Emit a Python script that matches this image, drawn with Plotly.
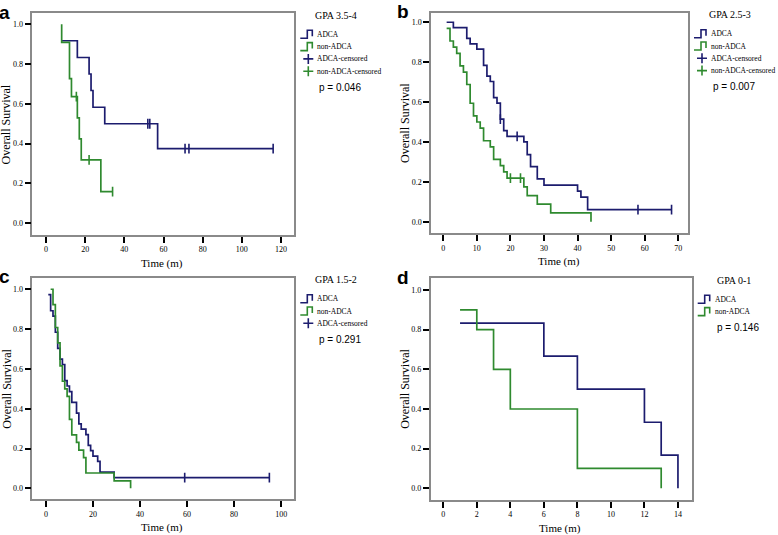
import plotly.graph_objects as go

W, H = 778, 535
NAVY = '#1c1c6e'
GREEN = '#2f8a2f'
SERIF = 'Liberation Serif'

# ---- data: (time, survival after event) pairs ----
# panel a, GPA 3.5-4
a_adca_t = [8, 16, 22, 23, 24, 30, 57, 116]
a_adca_s = [0.917, 0.833, 0.750, 0.667, 0.583, 0.500, 0.375, 0.375]
a_adca_ct = [52, 53, 71, 73, 116]
a_adca_cs = [0.500, 0.500, 0.375, 0.375, 0.375]
a_non_t = [8, 8, 12, 13, 16, 17, 18, 28, 34]
a_non_s = [1.0, 0.909, 0.727, 0.636, 0.530, 0.424, 0.318, 0.159, 0.159]
a_non_ct = [15.5, 22, 34]
a_non_cs = [0.636, 0.318, 0.159]

# panel b, GPA 2.5-3
b_adca_t = [1, 3, 7, 8, 10, 12, 13, 14, 15, 16, 17, 18, 19, 24, 25, 26, 28, 30, 40, 41, 43, 68]
b_adca_s = [1.0, 0.973, 0.919, 0.892, 0.865, 0.784, 0.730, 0.703, 0.622, 0.595, 0.514, 0.457,
            0.428, 0.400, 0.336, 0.276, 0.215, 0.184, 0.153, 0.123, 0.061, 0.061]
b_adca_ct = [17, 22, 58, 68]
b_adca_cs = [0.514, 0.428, 0.061, 0.061]
b_non_t = [1, 2, 3, 4, 5, 6, 7, 8, 9, 10, 11, 12, 14, 15, 17, 18, 19, 24, 25, 28, 32, 44]
b_non_s = [0.969, 0.906, 0.875, 0.844, 0.781, 0.750, 0.688, 0.594, 0.531, 0.500, 0.469, 0.406,
           0.375, 0.313, 0.281, 0.250, 0.219, 0.175, 0.131, 0.088, 0.044, 0.0]
b_non_ct = [20, 23]
b_non_cs = [0.219, 0.219]

# panel c, GPA 1.5-2
c_adca_t = [1, 2, 3, 4, 5, 6, 7, 8, 9, 10, 11, 13, 14, 15, 17, 18, 19, 20, 22, 23, 29, 95]
c_adca_s = [0.973, 0.892, 0.865, 0.784, 0.703, 0.649, 0.622, 0.541, 0.514, 0.486, 0.432, 0.378,
            0.324, 0.297, 0.270, 0.216, 0.189, 0.162, 0.135, 0.081, 0.054, 0.054]
c_adca_ct = [59, 95]
c_adca_cs = [0.054, 0.054]
c_non_t = [2, 3, 4, 5, 6, 7, 8, 9, 10, 11, 13, 14, 16, 17, 29, 36]
c_non_s = [1.0, 0.923, 0.808, 0.731, 0.615, 0.538, 0.500, 0.462, 0.346, 0.269, 0.231, 0.192,
           0.154, 0.077, 0.038, 0.0]

# panel d, GPA 0-1
d_adca_t = [1, 6, 8, 12, 13, 14]
d_adca_s = [0.833, 0.667, 0.500, 0.333, 0.167, 0.0]
d_non_t = [1, 2, 3, 4, 8, 13]
d_non_s = [0.9, 0.8, 0.6, 0.4, 0.1, 0.0]

panels = [
    dict(letter='a', title='GPA 3.5-4', p='p = 0.046', dtick=20,
         xr=[-7.0, 126.8], yr=[-0.059, 1.055], box=(32.3, 294.3, 13.3, 235.0),
         curves=[(a_adca_t, a_adca_s, NAVY), (a_non_t, a_non_s, GREEN)],
         cens=[(a_adca_ct, a_adca_cs, NAVY), (a_non_ct, a_non_cs, GREEN)],
         items=['ADCA', 'non-ADCA', 'ADCA-censored', 'non-ADCA-censored']),
    dict(letter='b', title='GPA 2.5-3', p='p = 0.007', dtick=10,
         xr=[-3.66, 72.9], yr=[-0.058, 1.048], box=(431.0, 688.0, 12.7, 233.3),
         curves=[(b_adca_t, b_adca_s, NAVY), (b_non_t, b_non_s, GREEN)],
         cens=[(b_adca_ct, b_adca_cs, NAVY), (b_non_ct, b_non_cs, GREEN)],
         items=['ADCA', 'non-ADCA', 'ADCA-censored', 'non-ADCA-censored']),
    dict(letter='c', title='GPA 1.5-2', p='p = 0.291', dtick=20,
         xr=[-5.8, 105.6], yr=[-0.055, 1.058], box=(32.3, 294.3, 277.7, 499.3),
         curves=[(c_adca_t, c_adca_s, NAVY), (c_non_t, c_non_s, GREEN)],
         cens=[(c_adca_ct, c_adca_cs, NAVY)],
         items=['ADCA', 'non-ADCA', 'ADCA-censored']),
    dict(letter='d', title='GPA 0-1', p='p = 0.146', dtick=2,
         xr=[-0.75, 14.82], yr=[-0.059, 1.059], box=(430.7, 691.7, 278.3, 500.0),
         curves=[(d_adca_t, d_adca_s, NAVY), (d_non_t, d_non_s, GREEN)],
         cens=[],
         items=['ADCA', 'non-ADCA']),
]


def px(x):
    return x / W


def py(y):
    return 1 - y / H


def note(text, x, y, size, family=SERIF, **kw):
    d = dict(text=text, x=px(x), y=py(y), xref='paper', yref='paper', showarrow=False,
             xanchor='center', yanchor='middle',
             font=dict(family=family, size=size, color='black'))
    d.update(kw)
    return d


fig = go.Figure()
annotations = []
shapes = []

for i, pn in enumerate(panels):
    n = '' if i == 0 else str(i + 1)
    xa, ya = 'x' + n, 'y' + n
    L, R, T, B = pn['box']

    for t, s, col in pn['curves']:
        fig.add_trace(go.Scatter(x=t, y=s, xaxis=xa, yaxis=ya, mode='lines',
                                 line=dict(color=col, width=1.7, shape='hv'),
                                 showlegend=False, hoverinfo='skip'))
    for t, s, col in pn['cens']:
        fig.add_trace(go.Scatter(x=t, y=s, xaxis=xa, yaxis=ya, mode='markers',
                                 marker=dict(symbol='line-ns-open', size=7, color=col,
                                             line=dict(color=col, width=1.6)),
                                 showlegend=False, hoverinfo='skip'))

    axis_common = dict(showline=True, mirror=True, linecolor='#8a8a8a', linewidth=1.5,
                       showgrid=False, zeroline=False, ticks='outside', ticklen=6,
                       tickwidth=2, tickcolor='black',
                       tickfont=dict(family=SERIF, size=8, color='black'))
    fig.update_layout(**{
        'xaxis' + n: dict(domain=[px(L), px(R)], range=pn['xr'], dtick=pn['dtick'],
                          tick0=0, anchor=ya, **axis_common),
        'yaxis' + n: dict(domain=[py(B), py(T)], range=pn['yr'], dtick=0.2,
                          tickformat='.1f', anchor=xa, **axis_common),
    })

    # panel letter, axis titles
    annotations.append(note('<b>%s</b>' % pn['letter'], L - 28, T - 13.3, 19,
                            family='Liberation Sans', yanchor='top'))
    annotations.append(note('Overall Survival', L - 26, (T + B) / 2, 12, textangle=-90))
    annotations.append(note('Time (m)', (L + R) / 2 - 1, B + 28, 11))

    # legend block
    lx = R + 6
    annotations.append(note(pn['title'], lx + 36, T + 2, 10))
    ly = T + 21
    for k, item in enumerate(pn['items']):
        yy = ly + k * 12.3
        col = NAVY if 'non' not in item else GREEN
        if 'censored' in item:
            cx = lx + 8
            shapes.append(dict(type='path', xref='paper', yref='paper',
                               path='M %f,%f L %f,%f M %f,%f L %f,%f' % (
                                   px(cx - 5), py(yy), px(cx + 5), py(yy),
                                   px(cx), py(yy - 5), px(cx), py(yy + 5)),
                               line=dict(color=col, width=1.6)))
        else:
            shapes.append(dict(type='path', xref='paper', yref='paper',
                               path='M %f,%f L %f,%f L %f,%f L %f,%f L %f,%f' % (
                                   px(lx), py(yy + 4), px(lx + 7), py(yy + 4),
                                   px(lx + 7), py(yy - 4), px(lx + 12), py(yy - 4),
                                   px(lx + 12), py(yy + 2)),
                               line=dict(color=col, width=1.6)))
        annotations.append(note(item, lx + 15, yy, 7.5, xanchor='left'))
    yy = ly + (len(pn['items']) - 1) * 12.3 + 16
    annotations.append(note(pn['p'], lx + 40, yy, 10, family='Liberation Sans'))

fig.update_layout(width=W, height=H, margin=dict(l=0, r=0, t=0, b=0),
                  paper_bgcolor='white', plot_bgcolor='white',
                  annotations=annotations, shapes=shapes, showlegend=False)

fig.write_html('out.html', config={'displayModeBar': False},
               post_script="document.body.style.margin='0';")
